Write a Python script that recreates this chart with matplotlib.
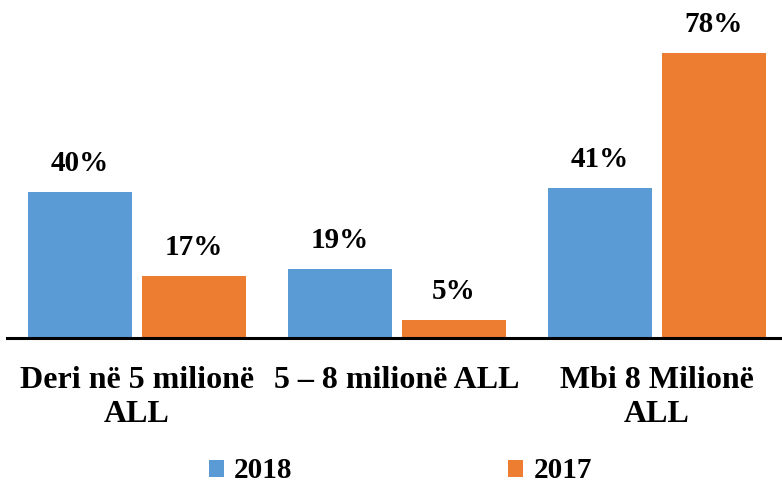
import matplotlib
matplotlib.use("Agg")
import matplotlib.pyplot as plt
from matplotlib.patches import Patch

categories = ["Deri në 5 milionë\nALL", "5 – 8 milionë ALL", "Mbi 8 Milionë\nALL"]
series_names = ["2018", "2017"]
values_2018 = [40, 19, 41]
values_2017 = [17, 5, 78]
colors = ["#5B9BD5", "#ED7D31"]

plt.rcParams['font.family'] = ['Liberation Serif', 'DejaVu Serif']
plt.rcParams['font.weight'] = 'bold'

W, H = 782, 483
fig = plt.figure(figsize=(W / 100, H / 100), dpi=100)
left_px, right_px, top_px, base_px = 7, 780, 0, 338
ax = fig.add_axes([left_px / W, 1 - base_px / H, (right_px - left_px) / W, (base_px - top_px) / H])

x = list(range(len(categories)))
bw = 0.4
off = 0.219
ppu = 3.65
ax.set_ylim(0, (base_px - top_px) / ppu)
ax.set_xlim(-0.5, -0.5 + (right_px - left_px) / 260)

for vals, sign, col in [(values_2018, -1, colors[0]), (values_2017, 1, colors[1])]:
    pos = [xi + sign * off for xi in x]
    bars = ax.bar(pos, vals, width=bw, color=col)
    for p, v in zip(pos, vals):
        ax.annotate(f"{v}%", (p, v), xytext=(0, 15), textcoords="offset pixels",
                    ha="center", va="bottom", fontsize=21, fontweight="bold")

for s in ["top", "right", "left"]:
    ax.spines[s].set_visible(False)
ax.spines["bottom"].set_linewidth(2.2)
ax.spines["bottom"].set_color("black")
ax.set_yticks([])
ax.set_xticks(x)
ax.set_xticklabels(categories, fontsize=23, fontweight="bold", linespacing=1.25)
ax.tick_params(axis="x", length=0, pad=20)

handles = [Patch(facecolor=c, label=n) for c, n in zip(colors, series_names)]
fig.legend(handles=handles, loc="center", bbox_to_anchor=(0.512, 1 - 471 / H), ncol=2,
           frameon=False, handlelength=0.52, handleheight=0.52,
           handletextpad=0.35, columnspacing=7.4, prop={'weight': 'bold', 'size': 21})

fig.savefig("out.png", dpi=100)
